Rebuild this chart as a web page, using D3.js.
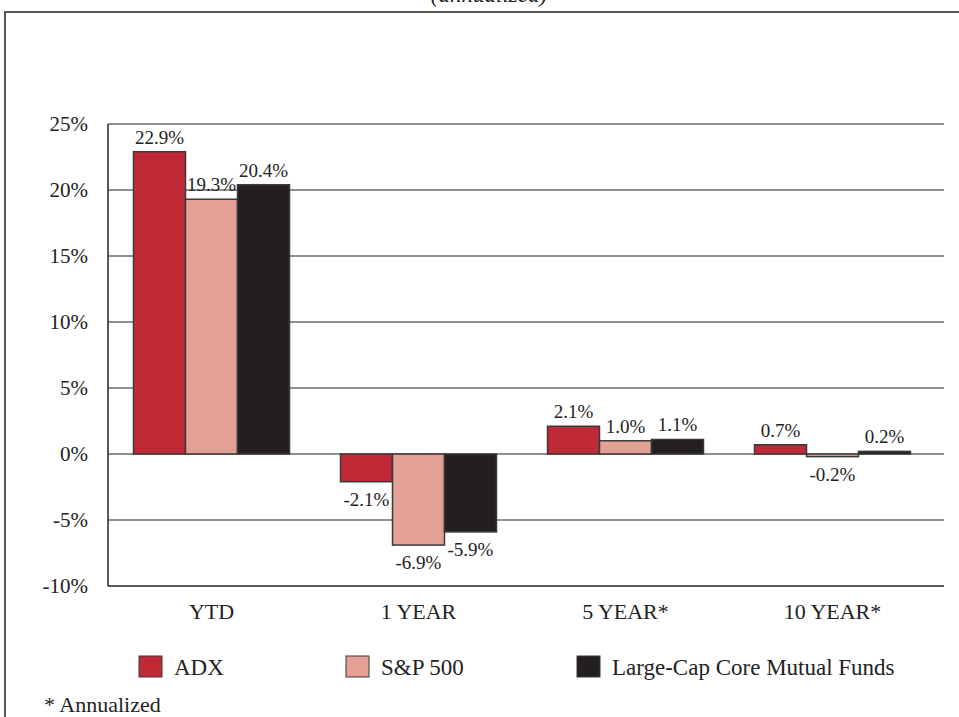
<!DOCTYPE html>
<html><head><meta charset="utf-8">
<script src="https://cdn.jsdelivr.net/npm/d3@7"></script>
<style>body{margin:0;background:#fff;}svg{display:block;font-family:"Liberation Serif","Times New Roman",serif;}</style>
</head><body>
<svg id="c" width="959" height="717"></svg>
<script>
const categories = ["YTD", "1 YEAR", "5 YEAR*", "10 YEAR*"];
const seriesNames = ["ADX", "S&P 500", "Large-Cap Core Mutual Funds"];
const adx = [22.9, -2.1, 2.1, 0.7];
const sp500 = [19.3, -6.9, 1.0, -0.2];
const largeCap = [20.4, -5.9, 1.1, 0.2];
const yTicks = [-10, -5, 0, 5, 10, 15, 20, 25];
const colors = ["#c02a37", "#e3a195", "#231f20"];
const seriesValues = [adx, sp500, largeCap];

(function () {
const svg = d3.select("#c");
// frame
svg.append("path").attr("d", "M5,730 L5,12 L970,12").attr("fill", "none").attr("stroke", "#555").attr("stroke-width", 2);
svg.append("text").attr("x", 489).attr("y", 2).attr("text-anchor", "middle")
  .attr("font-style", "italic").attr("font-size", 23).attr("fill", "#222").text("(annualized)");

const pL = 108, pR = 944, pT = 124, pB = 586;
const y = d3.scaleLinear().domain([-10, 25]).range([pB, pT]);
const x0 = d3.scaleBand().domain(categories).range([pL, pL + 207 * 4]).paddingInner(0).paddingOuter(0);
const x1 = d3.scaleBand().domain(seriesNames).range([25.5, 207 - 25.5]);

// gridlines
svg.append("g").selectAll("line").data(yTicks.filter(t => t !== -10)).join("line")
  .attr("x1", pL).attr("x2", pR).attr("y1", d => y(d)).attr("y2", d => y(d))
  .attr("stroke", "#222").attr("stroke-width", 1.2);

// y axis labels
const yAxis = d3.axisLeft(y).tickValues(yTicks).tickSize(0).tickPadding(20).tickFormat(d => d + "%");
const gy = svg.append("g").attr("transform", `translate(${pL},0)`).call(yAxis);
gy.select(".domain").remove();
gy.selectAll("text").attr("font-size", 21).attr("fill", "#222").attr("font-family", "Liberation Serif").attr("dy", "0.3em");

// bars
seriesValues.forEach((vals, si) => {
  const g = svg.append("g");
  g.selectAll("rect").data(vals).join("rect")
    .attr("x", (d, i) => x0(categories[i]) + x1(seriesNames[si]))
    .attr("width", x1.bandwidth())
    .attr("y", d => y(Math.max(0, d)))
    .attr("height", d => Math.abs(y(d) - y(0)))
    .attr("fill", colors[si]).attr("stroke", "#3a3a3a").attr("stroke-width", 1.5);
  g.selectAll("text").data(vals).join("text")
    .attr("x", (d, i) => x0(categories[i]) + x1(seriesNames[si]) + x1.bandwidth() / 2)
    .attr("y", d => d >= 0 ? y(d) - 8 : y(d) + 24)
    .attr("text-anchor", "middle").attr("font-size", 19).attr("fill", "#222")
    .text(d => d.toFixed(1) + "%");
});

// axes lines
svg.append("line").attr("x1", pL).attr("x2", pL).attr("y1", pT).attr("y2", pB).attr("stroke", "#222").attr("stroke-width", 1.5);
svg.append("line").attr("x1", pL).attr("x2", pR).attr("y1", pB).attr("y2", pB).attr("stroke", "#222").attr("stroke-width", 1.5);

// category labels
const xAxis = d3.axisBottom(x0).tickSize(0).tickPadding(17);
const gx = svg.append("g").attr("transform", `translate(0,${pB})`).call(xAxis);
gx.select(".domain").remove();
gx.selectAll("text").attr("font-size", 22).attr("fill", "#222").attr("font-family", "Liberation Serif");

// legend
const legX = [139, 346, 577];
const lg = svg.append("g").selectAll("g").data(seriesNames).join("g")
  .attr("transform", (d, i) => `translate(${legX[i]},656)`);
lg.append("rect").attr("width", 23).attr("height", 21).attr("fill", (d, i) => colors[i]).attr("stroke", "#3a3a3a").attr("stroke-width", 1);
lg.append("text").attr("x", 35).attr("y", 19).attr("font-size", 23).attr("fill", "#222").text(d => d);

svg.append("text").attr("x", 44).attr("y", 712).attr("font-size", 22).attr("fill", "#222").text("* Annualized");
})();
</script>
</body></html>
